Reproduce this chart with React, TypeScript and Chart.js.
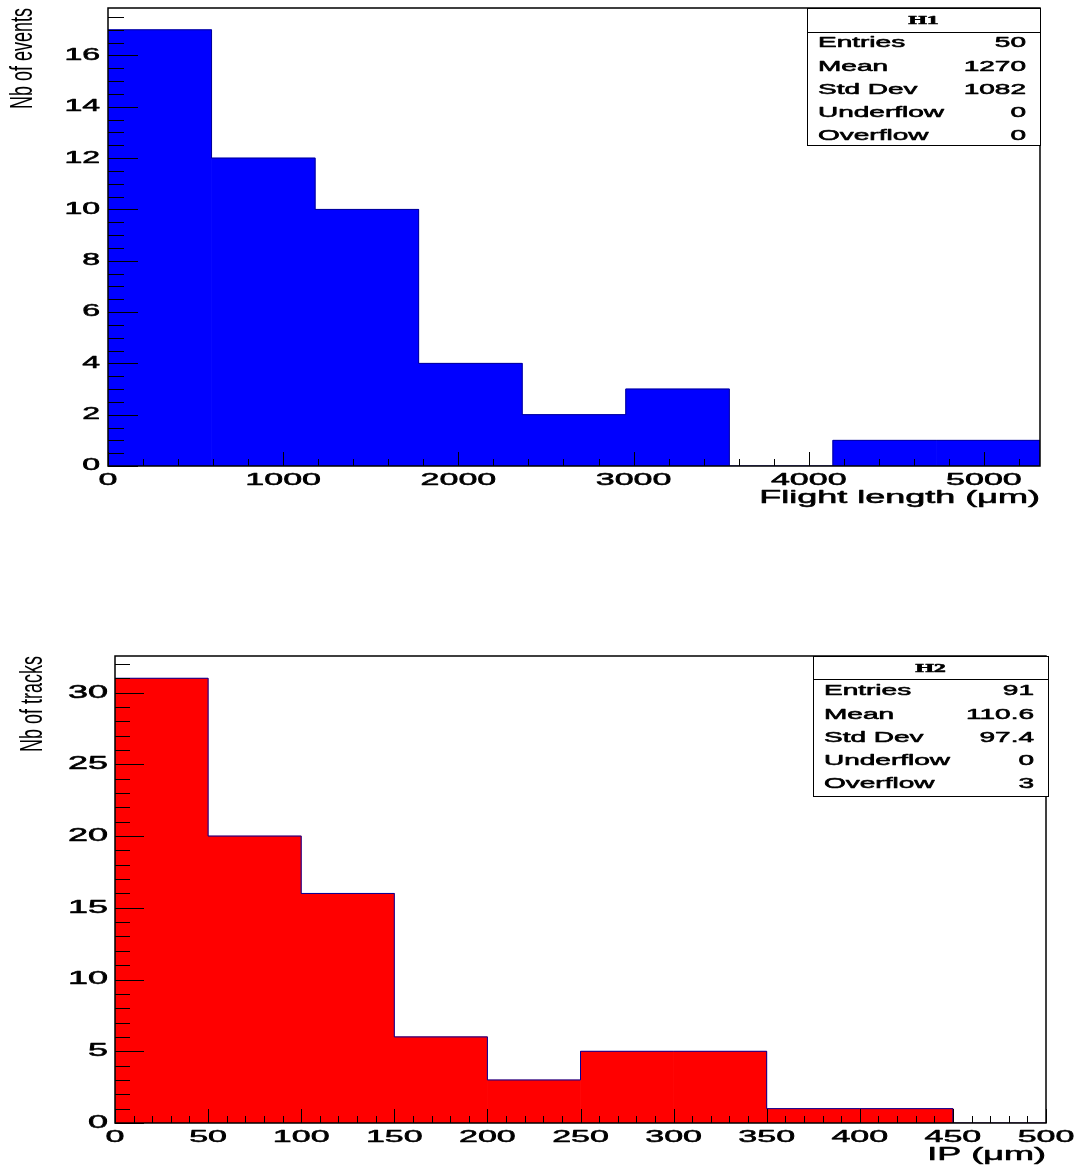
import React, { useEffect, useRef } from 'react';
import { Chart, registerables } from 'chart.js';

Chart.register(...registerables);

// ---------------- data ----------------
// H1 : flight length
const h1Counts = [17, 12, 10, 4, 2, 3, 0, 1, 1];
const h1Low = 0;
const h1High = 5320;
const h1YMax = 17.85;
const h1XTickLabels = [0, 1000, 2000, 3000, 4000, 5000];
const h1YTickLabels = [0, 2, 4, 6, 8, 10, 12, 14, 16];
const h1StatLabels = ['Entries', 'Mean', 'Std Dev', 'Underflow', 'Overflow'];
const h1StatValues = ['50', '1270', '1082', '0', '0'];

// H2 : impact parameter
const h2Counts = [31, 20, 16, 6, 3, 5, 5, 1, 1, 0];
const h2Low = 0;
const h2High = 500;
const h2YMax = 32.55;
const h2XTickLabels = [0, 50, 100, 150, 200, 250, 300, 350, 400, 450, 500];
const h2YTickLabels = [0, 5, 10, 15, 20, 25, 30];
const h2StatLabels = ['Entries', 'Mean', 'Std Dev', 'Underflow', 'Overflow'];
const h2StatValues = ['91', '110.6', '97.4', '0', '3'];

// ---------------- style ----------------
const FONT = '"Liberation Sans", Arial, Helvetica, sans-serif';
const SERIF = '"Liberation Serif", "Times New Roman", serif';
const TEXT_STRETCH = 2;
const ROT_STRETCH = 1.7;
const EMBOLDEN = 0.55;

function patchFillText(ctx: any) {
  if (ctx.__stretched) return;
  ctx.__stretched = true;
  const orig = ctx.fillText;
  const origStroke = ctx.strokeText;
  ctx.fillText = function (text: string, x: number, y: number, maxWidth?: number) {
    const m: DOMMatrix = ctx.getTransform();
    const rotated = Math.abs(m.b) > 1e-6;
    const s = rotated ? ROT_STRETCH : TEXT_STRETCH;
    const p = m.transformPoint(new DOMPoint(x, y));
    const t = new DOMMatrix().translate(p.x, p.y).scale(s, 1).translate(-p.x, -p.y).multiply(m);
    ctx.save();
    ctx.setTransform(t);
    if (maxWidth === undefined) orig.call(ctx, text, x, y);
    else orig.call(ctx, text, x, y, maxWidth);
    if (!rotated) {
      ctx.strokeStyle = ctx.fillStyle;
      ctx.lineWidth = EMBOLDEN;
      ctx.lineJoin = 'round';
      if (maxWidth === undefined) origStroke.call(ctx, text, x, y);
      else origStroke.call(ctx, text, x, y, maxWidth);
    }
    ctx.restore();
  };
}

interface Spec {
  counts: number[];
  low: number;
  high: number;
  yMax: number;
  xTicks: number[];
  yTicks: number[];
  xMinor: number;
  yMinor: number;
  xMajor: number;
  yMajor: number;
  statTitle: string;
  statLabels: string[];
  statValues: string[];
  fill: string;
  line: string;
  xTitle: string;
  yTitle: string;
  canvasTop: number;
  canvasHeight: number;
  pad: { left: number; top: number; right: number; bottom: number };
  yAxisWidth: number;
  xAxisHeight: number;
  yFont: number;
  yLabelPad: number;
  xTitlePad: number;
  yTitlePad: number;
  yMajLen: number;
  yMinLen: number;
  box: { dx: number; w: number; h: number; div: number };
}

const spec1: Spec = {
  counts: h1Counts, low: h1Low, high: h1High, yMax: h1YMax,
  xTicks: h1XTickLabels, yTicks: h1YTickLabels,
  xMinor: 200, yMinor: 0.5, xMajor: 1000, yMajor: 2,
  statTitle: 'H1', statLabels: h1StatLabels, statValues: h1StatValues,
  fill: '#0000ff', line: '#000099',
  xTitle: 'Flight length (\u03bcm)', yTitle: 'Nb of events',
  canvasTop: 0, canvasHeight: 540,
  pad: { left: 0, top: 8, right: 44, bottom: 0 },
  yAxisWidth: 108, xAxisHeight: 74,
  yFont: 16, yLabelPad: 8, xTitlePad: 31.5, yTitlePad: 13.2,
  yMajLen: 30, yMinLen: 16,
  box: { dx: 0, w: 233, h: 137, div: 24 },
};

const spec2: Spec = {
  counts: h2Counts, low: h2Low, high: h2High, yMax: h2YMax,
  xTicks: h2XTickLabels, yTicks: h2YTickLabels,
  xMinor: 10, yMinor: 1, xMajor: 50, yMajor: 5,
  statTitle: 'H2', statLabels: h2StatLabels, statValues: h2StatValues,
  fill: '#ff0000', line: '#000099',
  xTitle: 'IP (\u03bcm)', yTitle: 'Nb of tracks',
  canvasTop: 560, canvasHeight: 610,
  pad: { left: 0, top: 96, right: 38, bottom: 0 },
  yAxisWidth: 115, xAxisHeight: 47,
  yFont: 18, yLabelPad: 7, xTitlePad: 4.2, yTitlePad: 23.2,
  yMajLen: 29, yMinLen: 15,
  box: { dx: 2, w: 235, h: 140, div: 23 },
};

function isMult(v: number, step: number) {
  const r = v / step;
  return Math.abs(r - Math.round(r)) < 1e-6;
}

function makeConfig(s: Spec): any {
  const n = s.counts.length;
  const w = (s.high - s.low) / n;
  const bars = s.counts.map((c, i) => ({ x: s.low + (i + 0.5) * w, y: c }));
  const outline = s.counts
    .map((c, i) => ({ x: s.low + i * w, y: c }))
    .concat([
      { x: s.high, y: s.counts[n - 1] },
      { x: s.high, y: 0 },
    ]);

  const framePlugin = {
    id: 'rootFrame',
    afterDatasetsDraw(chart: any) {
      const { ctx, chartArea } = chart;
      const { left, right, top, bottom } = chartArea;
      const xs = chart.scales.x;
      const ys = chart.scales.y;
      ctx.save();
      ctx.strokeStyle = '#000';
      ctx.lineWidth = 1;
      for (let v = s.low; v <= s.high + 1e-9; v += s.xMinor) {
        const px = Math.round(xs.getPixelForValue(v)) + 0.5;
        const len = isMult(v, s.xMajor) ? 14 : 7;
        ctx.beginPath();
        ctx.moveTo(px, bottom);
        ctx.lineTo(px, bottom - len);
        ctx.stroke();
      }
      for (let v = 0; v <= s.yMax + 1e-9; v += s.yMinor) {
        const py = Math.round(ys.getPixelForValue(v)) + 0.5;
        const len = isMult(v, s.yMajor) ? s.yMajLen : s.yMinLen;
        ctx.beginPath();
        ctx.moveTo(left, py);
        ctx.lineTo(left + len, py);
        ctx.stroke();
      }
      ctx.lineWidth = 1.5;
      ctx.strokeRect(left, top, right - left, bottom - top);
      ctx.restore();
    },
    afterDraw(chart: any) {
      const { ctx, chartArea } = chart;
      const bx1 = chartArea.right + s.box.dx;
      const bx0 = bx1 - s.box.w;
      const by0 = chartArea.top;
      ctx.save();
      ctx.fillStyle = '#fff';
      ctx.fillRect(bx0, by0, s.box.w, s.box.h);
      ctx.strokeStyle = '#000';
      ctx.lineWidth = 1;
      ctx.strokeRect(bx0 + 0.5, by0 + 0.5, s.box.w, s.box.h);
      ctx.beginPath();
      ctx.moveTo(bx0, by0 + s.box.div + 0.5);
      ctx.lineTo(bx1, by0 + s.box.div + 0.5);
      ctx.stroke();
      ctx.fillStyle = '#000';
      ctx.textBaseline = 'middle';
      ctx.textAlign = 'center';
      ctx.font = `bold 12px ${SERIF}`;
      ctx.fillText(s.statTitle, (bx0 + bx1) / 2, by0 + 13);
      ctx.font = `14px ${FONT}`;
      s.statLabels.forEach((lab, i) => {
        const y = by0 + 35.5 + 23.2 * i;
        ctx.textAlign = 'left';
        ctx.fillText(lab, bx0 + 11, y);
        ctx.textAlign = 'right';
        ctx.fillText(s.statValues[i], bx1 - 14, y);
      });
      ctx.restore();
    },
  };

  return {
    type: 'bar',
    data: {
      datasets: [
        {
          type: 'bar',
          data: bars,
          backgroundColor: s.fill,
          borderWidth: 0,
          barPercentage: 1,
          categoryPercentage: 1,
          order: 2,
        },
        {
          type: 'line',
          data: outline,
          stepped: 'before',
          borderColor: s.line,
          borderWidth: 1,
          pointRadius: 0,
          fill: false,
          order: 1,
        },
      ],
    },
    options: {
      animation: false,
      responsive: false,
      maintainAspectRatio: false,
      events: [],
      layout: { padding: s.pad },
      plugins: { legend: { display: false }, tooltip: { enabled: false } },
      scales: {
        x: {
          type: 'linear',
          min: s.low,
          max: s.high,
          offset: false,
          grid: { display: false, drawTicks: false },
          border: { display: false },
          ticks: {
            autoSkip: false,
            maxRotation: 0,
            padding: 4,
            color: '#000',
            font: { family: FONT, size: 17 },
            callback: (v: number) => String(v),
          },
          title: {
            display: true,
            text: s.xTitle,
            align: 'end',
            color: '#000',
            font: { family: FONT, size: 18 },
            padding: { top: 0, bottom: s.xTitlePad },
          },
          afterBuildTicks: (sc: any) => {
            sc.ticks = s.xTicks.map((v) => ({ value: v }));
          },
          afterFit: (sc: any) => {
            sc.height = s.xAxisHeight;
            sc.paddingLeft = 0;
            sc.paddingRight = 0;
          },
        },
        y: {
          type: 'linear',
          min: 0,
          max: s.yMax,
          grid: { display: false, drawTicks: false },
          border: { display: false },
          ticks: {
            autoSkip: false,
            padding: s.yLabelPad,
            color: '#000',
            font: { family: FONT, size: s.yFont },
            callback: (v: number) => String(v),
          },
          title: {
            display: true,
            text: s.yTitle,
            align: 'end',
            color: '#000',
            font: { family: FONT, size: 18 },
            padding: { top: s.yTitlePad, bottom: 0 },
          },
          afterBuildTicks: (sc: any) => {
            sc.ticks = s.yTicks.map((v) => ({ value: v }));
          },
          afterFit: (sc: any) => {
            sc.width = s.yAxisWidth;
            sc.paddingTop = 0;
            sc.paddingBottom = 0;
          },
        },
      },
    },
    plugins: [framePlugin],
  };
}

function Histo({ spec }: { spec: Spec }) {
  const ref = useRef<HTMLCanvasElement>(null);
  useEffect(() => {
    const canvas = ref.current!;
    const ctx = canvas.getContext('2d')!;
    patchFillText(ctx);
    const chart = new Chart(canvas, makeConfig(spec));
    return () => chart.destroy();
  }, [spec]);
  return (
    <canvas
      ref={ref}
      width={1084}
      height={spec.canvasHeight}
      style={{
        position: 'absolute',
        left: 0,
        top: spec.canvasTop,
        width: 1084,
        height: spec.canvasHeight,
      }}
    />
  );
}

export default function App() {
  return (
    <div
      style={{
        position: 'absolute',
        left: 0,
        top: 0,
        width: 1084,
        height: 1170,
        background: '#fff',
        overflow: 'hidden',
      }}
    >
      <Histo spec={spec1} />
      <Histo spec={spec2} />
    </div>
  );
}
